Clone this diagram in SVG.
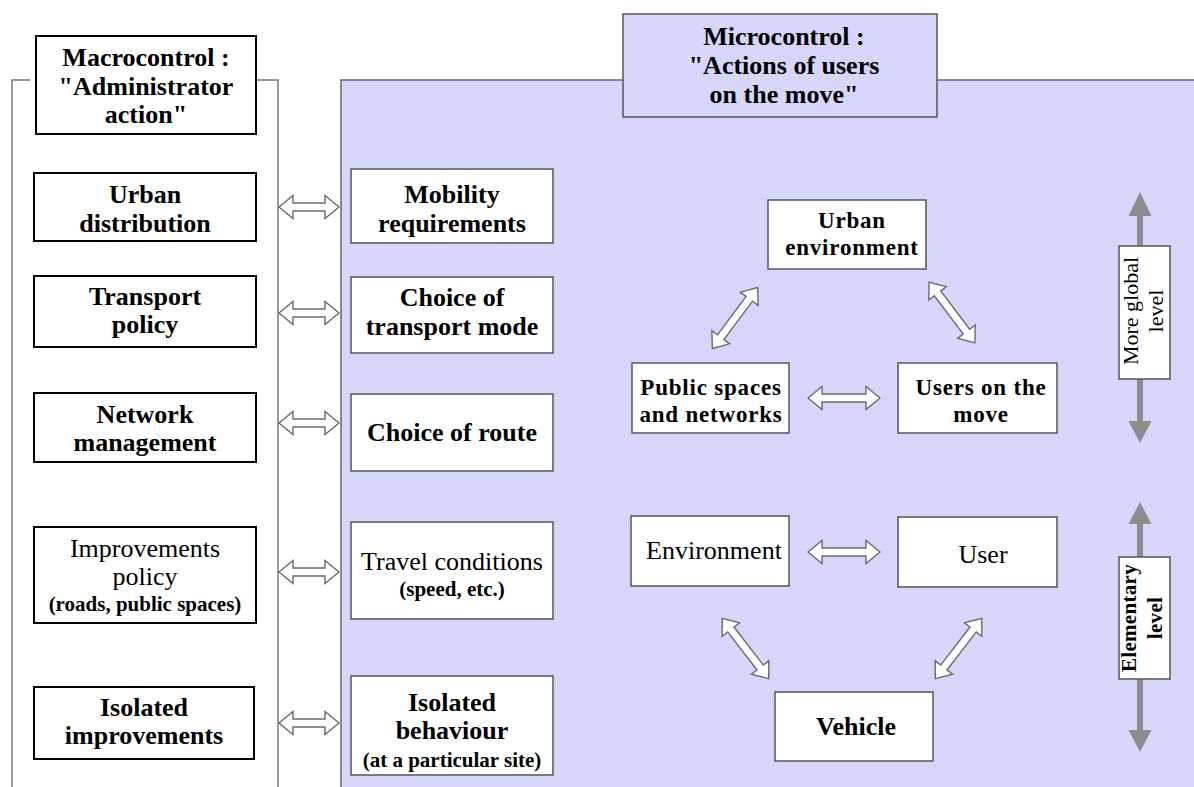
<svg xmlns="http://www.w3.org/2000/svg" xmlns:xlink="http://www.w3.org/1999/xlink" width="1194" height="787" viewBox="0 0 1194 787" font-family="'Liberation Serif', 'Times New Roman', Tinos, 'DejaVu Serif', serif">
<style>
text{font-family:'Liberation Serif','Times New Roman',Tinos,'DejaVu Serif',serif;fill:#000;text-anchor:middle}
.b{font-weight:bold;font-size:26px}
.r{font-size:26px}
.s{font-weight:bold;font-size:21px}
.t{font-weight:bold;font-size:23px;letter-spacing:0.8px}
.lbox{fill:#fff;stroke:#000;stroke-width:2}
.pbox{fill:#fff;stroke:#555;stroke-width:1.5}
.frame{fill:none;stroke:#7a7a7a;stroke-width:1.5}
.arr{fill:#fff;stroke:#6a6a6a;stroke-width:1.4;stroke-linejoin:miter}
.lvl{fill:#8c8c8c;stroke:none}
</style>
<defs>
<path id="a60" d="M-30,0 L-16,-11.5 L-16,-4 L16,-4 L16,-11.5 L30,0 L16,11.5 L16,4 L-16,4 L-16,11.5 Z"/>
<path id="a72" d="M-36,0 L-22,-11.5 L-22,-4 L22,-4 L22,-11.5 L36,0 L22,11.5 L22,4 L-22,4 L-22,11.5 Z"/>
<path id="a76" d="M-38,0 L-24,-11 L-24,-4 L24,-4 L24,-11 L38,0 L24,11 L24,4 L-24,4 L-24,11 Z"/>
</defs>
<rect x="0" y="0" width="1194" height="787" fill="#fff"/>

<g id="macro-frame">
<path class="frame" d="M30,80 H12 V787"/>
<path class="frame" d="M257,80 H278 V787"/>
</g>

<g id="micro-panel">
<rect x="341" y="80" width="860" height="720" fill="#d6d6fb"/>
<path d="M341,787 V80 H623 M937,80 H1194" fill="none" stroke="#666" stroke-width="1.5"/>
</g>

<g id="macrocontrol">
<rect class="lbox" x="36" y="36" width="220" height="98"/>
<text class="b" x="146" y="66">Macrocontrol :</text>
<text class="b" x="146" y="95">"Administrator</text>
<text class="b" x="146" y="123">action"</text>
</g>

<g id="urban-distribution">
<rect class="lbox" x="34" y="173" width="222" height="68"/>
<text class="b" x="145" y="203">Urban</text>
<text class="b" x="145" y="232">distribution</text>
</g>

<g id="transport-policy">
<rect class="lbox" x="34" y="276" width="222" height="71"/>
<text class="b" x="145" y="305">Transport</text>
<text class="b" x="145" y="333">policy</text>
</g>

<g id="network-management">
<rect class="lbox" x="34" y="393" width="222" height="69"/>
<text class="b" x="145" y="423">Network</text>
<text class="b" x="145" y="451">management</text>
</g>

<g id="improvements-policy">
<rect class="lbox" x="34" y="527" width="222" height="96"/>
<text class="r" x="145" y="557">Improvements</text>
<text class="r" x="145" y="585">policy</text>
<text class="s" x="145" y="611">(roads, public spaces)</text>
</g>

<g id="isolated-improvements">
<rect class="lbox" x="34" y="687" width="220" height="72"/>
<text class="b" x="144" y="716">Isolated</text>
<text class="b" x="144" y="744">improvements</text>
</g>

<g id="microcontrol">
<rect x="623" y="14" width="314" height="103" fill="#d6d6fb" stroke="#555" stroke-width="1.5"/>
<text class="b" x="784" y="45">Microcontrol :</text>
<text class="b" x="784" y="74">"Actions of users</text>
<text class="b" x="784" y="103">on the move"</text>
</g>

<g id="mobility-requirements">
<rect class="pbox" x="351" y="169" width="202" height="74"/>
<text class="b" x="452" y="203">Mobility</text>
<text class="b" x="452" y="232">requirements</text>
</g>

<g id="choice-of-transport-mode">
<rect class="pbox" x="351" y="277" width="202" height="76"/>
<text class="b" x="452" y="306">Choice of</text>
<text class="b" x="452" y="335">transport mode</text>
</g>

<g id="choice-of-route">
<rect class="pbox" x="351" y="394" width="202" height="77"/>
<text class="b" x="452" y="441">Choice of route</text>
</g>

<g id="travel-conditions">
<rect class="pbox" x="351" y="522" width="202" height="97"/>
<text class="r" x="452" y="570">Travel conditions</text>
<text class="s" x="452" y="596">(speed, etc.)</text>
</g>

<g id="isolated-behaviour">
<rect class="pbox" x="351" y="676" width="202" height="99"/>
<text class="b" x="452" y="711">Isolated</text>
<text class="b" x="452" y="739">behaviour</text>
<text class="s" x="452" y="767">(at a particular site)</text>
</g>

<g id="urban-environment">
<rect class="pbox" x="768" y="200" width="158" height="69"/>
<text class="t" x="852" y="228">Urban</text>
<text class="t" x="852" y="255">environment</text>
</g>

<g id="public-spaces">
<rect class="pbox" x="632" y="363" width="157" height="70"/>
<text class="t" x="711" y="395">Public spaces</text>
<text class="t" x="711" y="422">and networks</text>
</g>

<g id="users-on-the-move">
<rect class="pbox" x="898" y="363" width="159" height="70"/>
<text class="t" x="981" y="395">Users on the</text>
<text class="t" x="981" y="422">move</text>
</g>

<g id="environment">
<rect class="pbox" x="631" y="516" width="158" height="70"/>
<text class="r" x="714" y="559">Environment</text>
</g>

<g id="user">
<rect class="pbox" x="898" y="517" width="159" height="70"/>
<text class="r" x="983" y="563">User</text>
</g>

<g id="vehicle">
<rect class="pbox" x="775" y="692" width="158" height="69"/>
<text class="b" x="856" y="735">Vehicle</text>
</g>

<g id="connectors">
<use xlink:href="#a60" class="arr" transform="translate(309,207)"/>
<use xlink:href="#a60" class="arr" transform="translate(309,313)"/>
<use xlink:href="#a60" class="arr" transform="translate(309,423)"/>
<use xlink:href="#a60" class="arr" transform="translate(309,572)"/>
<use xlink:href="#a60" class="arr" transform="translate(309,723)"/>
<use xlink:href="#a72" class="arr" transform="translate(844,398)"/>
<use xlink:href="#a72" class="arr" transform="translate(844,552)"/>
<use xlink:href="#a76" class="arr" transform="translate(735,318) rotate(-53.4)"/>
<use xlink:href="#a76" class="arr" transform="translate(952,312.5) rotate(53)"/>
<use xlink:href="#a76" class="arr" transform="translate(745.5,648.5) rotate(52.4)"/>
<use xlink:href="#a76" class="arr" transform="translate(958.5,648.5) rotate(-52.4)"/>
</g>

<g id="more-global-level">
<rect class="lvl" x="1137" y="212" width="6" height="212"/>
<polygon class="lvl" points="1140,192 1151.5,216 1128.5,216"/>
<polygon class="lvl" points="1140,443 1151.5,421 1128.5,421"/>
<rect class="pbox" x="1119" y="246" width="51" height="133"/>
<g transform="translate(1144.5,311) rotate(-90)">
<text style="font-size:22px" x="0" y="-6.5">More global</text>
<text style="font-size:22px" x="0" y="18.5">level</text>
</g>
</g>

<g id="elementary-level">
<rect class="lvl" x="1137" y="522" width="6" height="210"/>
<polygon class="lvl" points="1140,502 1151.5,524 1128.5,524"/>
<polygon class="lvl" points="1140,752 1151.5,730 1128.5,730"/>
<rect class="pbox" x="1119" y="557" width="51" height="122"/>
<g transform="translate(1144.5,618) rotate(-90)">
<text style="font-size:21px;font-weight:bold;letter-spacing:0.3px" x="0" y="-8.5">Elementary</text>
<text style="font-size:21px;font-weight:bold;letter-spacing:0.3px" x="0" y="17.5">level</text>
</g>
</g>
</svg>
